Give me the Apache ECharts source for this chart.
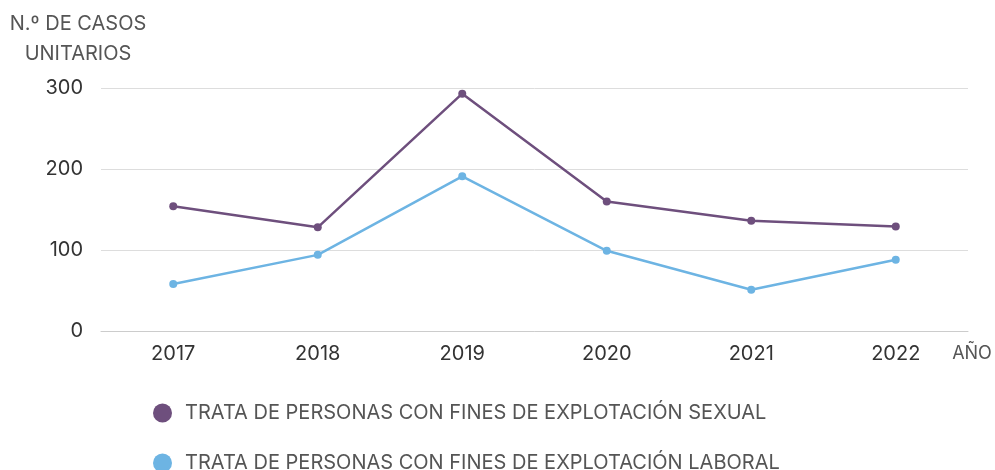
<!DOCTYPE html>
<html>
<head>
<meta charset="utf-8">
<script src="https://cdn.jsdelivr.net/npm/echarts@6/dist/echarts.min.js"></script>
<style>
  html, body { margin: 0; padding: 0; background: #fff; }
  #chart { width: 995px; height: 470px; }
</style>
</head>
<body>
<div id="chart"></div>
<script>
// data
const years = ['2017', '2018', '2019', '2020', '2021', '2022'];
const sexual = [154, 128, 293, 160, 136, 129];
const laboral = [58, 94, 191, 99, 51, 88];
const seriesNames = [
  'TRATA DE PERSONAS CON FINES DE EXPLOTACIÓN SEXUAL',
  'TRATA DE PERSONAS CON FINES DE EXPLOTACIÓN LABORAL'
];
const colors = ['#6e4f7d', '#6db4e3'];

const font = 'Inter, "Noto Sans", sans-serif';

const chart = echarts.init(document.getElementById('chart'));

// one legend per row, so they stack like the reference
const legendRow = (name, top) => ({
  orient: 'vertical',
  left: 148,
  top: top,
  icon: 'circle',
  itemWidth: 19,
  itemHeight: 19,
  textStyle: { fontFamily: font, fontSize: 20, color: '#555', padding: [0, 0, 0, 8] },
  data: [name]
});

chart.setOption({
  animation: false,
  grid: { left: 101, right: 27, top: 88, bottom: 139 },
  graphic: [{
    type: 'text',
    x: 78, y: 9,
    style: {
      text: 'N.º DE CASOS\nUNITARIOS',
      textAlign: 'center',
      fontFamily: font,
      fontSize: 20,
      lineHeight: 30,
      fill: '#555'
    }
  }],
  legend: [legendRow(seriesNames[0], 398), legendRow(seriesNames[1], 448)],
  xAxis: {
    type: 'category',
    data: years,
    name: 'AÑO',
    nameLocation: 'end',
    nameGap: 4,
    nameTextStyle: {
      fontFamily: font, fontSize: 18, color: '#555',
      align: 'center', verticalAlign: 'top', padding: [14, 0, 0, 0]
    },
    axisLine: { lineStyle: { color: '#ccc' } },
    axisTick: { show: false },
    axisLabel: { fontFamily: font, fontSize: 20, color: '#333', margin: 13 }
  },
  yAxis: {
    type: 'value',
    min: 0,
    max: 300,
    interval: 100,
    axisLabel: { fontFamily: font, fontSize: 20, color: '#333', margin: 18 },
    splitLine: { lineStyle: { color: '#ddd' } }
  },
  series: [
    {
      name: seriesNames[0],
      type: 'line',
      data: sexual,
      color: colors[0],
      symbol: 'circle',
      symbolSize: 8,
      lineStyle: { width: 2.5 }
    },
    {
      name: seriesNames[1],
      type: 'line',
      data: laboral,
      color: colors[1],
      symbol: 'circle',
      symbolSize: 8,
      lineStyle: { width: 2.5 }
    }
  ]
});
</script>
</body>
</html>
